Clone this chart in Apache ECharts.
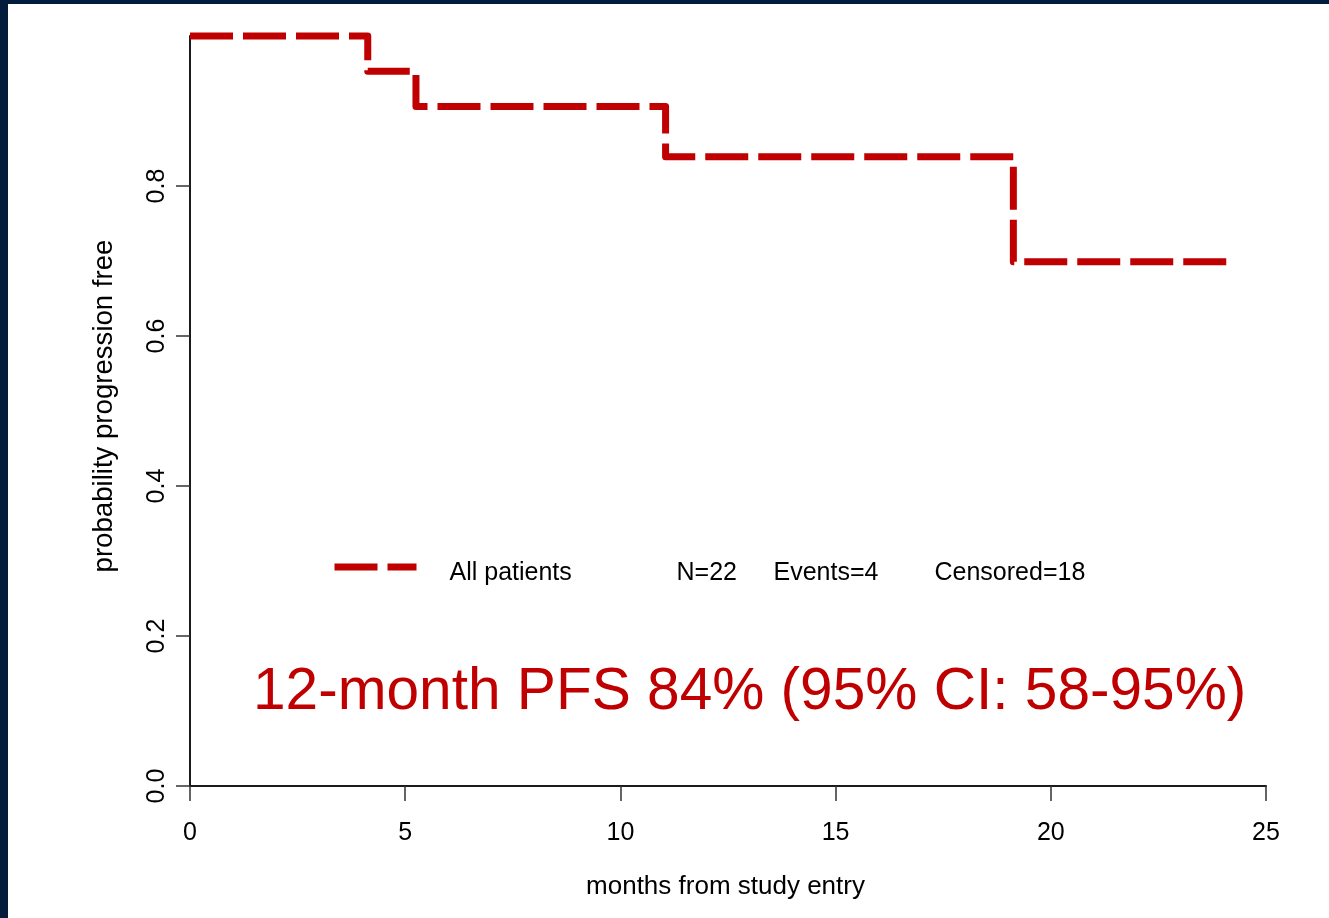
<!DOCTYPE html>
<html>
<head>
<meta charset="utf-8">
<script src="https://cdn.jsdelivr.net/npm/echarts@6/dist/echarts.min.js"></script>
<style>
  html, body { margin: 0; padding: 0; width: 1329px; height: 918px; overflow: hidden; background: #011d3b; }
  #chart { position: absolute; left: 8px; top: 4px; width: 1321px; height: 914px; background: #ffffff; }
</style>
</head>
<body>
<div id="chart"></div>
<script>
// Kaplan-Meier estimate of progression-free survival (months, probability)
const times = [0, 4.13, 5.25, 11.05, 19.13, 24.15];
const survival = [1.0, 0.953, 0.906, 0.839, 0.699, 0.699];

const xTicks = [0, 5, 10, 15, 20, 25];
const yTicks = [0, 0.2, 0.4, 0.6, 0.8];

const seriesName = 'All patients';
const statLabels = ['N=22', 'Events=4', 'Censored=18'];
const annotation = '12-month PFS 84% (95% CI: 58-95%)';

const RED = '#c00000';
const FONT = '"Liberation Sans", Arial, sans-serif';
const DASH = [43, 10];

const curve = times.map((t, i) => [t, survival[i]]);

const chart = echarts.init(document.getElementById('chart'), null, { renderer: 'canvas' });

chart.setOption({
  animation: false,
  backgroundColor: '#ffffff',
  textStyle: { fontFamily: FONT },
  grid: { left: 182, right: 63, top: 32, bottom: 132 },
  xAxis: {
    type: 'value',
    min: xTicks[0],
    max: xTicks[xTicks.length - 1],
    interval: 5,
    name: 'months from study entry',
    nameLocation: 'middle',
    nameGap: 88,
    nameTextStyle: { color: '#000', fontSize: 26, fontFamily: FONT, padding: [0, 5, 0, 0] },
    axisLine: { show: true, onZero: false, lineStyle: { color: '#1a1a1a', width: 2 } },
    axisTick: { show: true, length: 15, lineStyle: { color: '#333', width: 1.5 } },
    axisLabel: { color: '#000', fontSize: 25, fontFamily: FONT, margin: 35, showMinLabel: true, showMaxLabel: true },
    splitLine: { show: false }
  },
  yAxis: {
    type: 'value',
    min: 0,
    max: 1,
    interval: 0.2,
    name: 'probability progression free',
    nameLocation: 'middle',
    nameGap: 72,
    nameTextStyle: { color: '#000', fontSize: 27.6, fontFamily: FONT, padding: [0, 0, 0, 10] },
    axisLine: { show: true, onZero: false, lineStyle: { color: '#1a1a1a', width: 2 } },
    axisTick: { show: true, length: 14, customValues: yTicks, lineStyle: { color: '#333', width: 1.5 } },
    axisLabel: {
      color: '#000', fontSize: 25, fontFamily: FONT, margin: 20, rotate: 90,
      customValues: yTicks,
      formatter: v => v.toFixed(1)
    },
    splitLine: { show: false }
  },
  legend: {
    show: true,
    left: 323,
    top: 553,
    padding: 0,
    itemWidth: 82,
    itemHeight: 25,
    data: [seriesName],
    itemStyle: { opacity: 0 },
    lineStyle: { color: RED, width: 7, type: DASH, cap: 'butt' },
    formatter: name =>
      '{p| }{a|' + name + '}{b|' + statLabels[0] + '}{c|' + statLabels[1] + '}{d|' + statLabels[2] + '}',
    textStyle: {
      color: '#000',
      fontSize: 25,
      fontFamily: FONT,
      padding: [12, 0, 0, 0],
      rich: {
        p: { width: 28, fontSize: 25, fontFamily: FONT },
        a: { width: 227, fontSize: 25, fontFamily: FONT, color: '#000' },
        b: { width: 97, fontSize: 25, fontFamily: FONT, color: '#000' },
        c: { width: 161, fontSize: 25, fontFamily: FONT, color: '#000' },
        d: { fontSize: 25, fontFamily: FONT, color: '#000' }
      }
    }
  },
  graphic: [{
    type: 'text',
    left: 245,
    top: 659,
    style: {
      text: annotation,
      fill: RED,
      font: '58.6px ' + FONT
    }
  }],
  series: [{
    name: seriesName,
    type: 'line',
    step: 'end',
    symbol: 'none',
    clip: false,
    data: curve,
    lineStyle: { color: RED, width: 7, type: DASH, cap: 'butt', join: 'round' },
    itemStyle: { color: RED }
  }]
});
</script>
</body>
</html>
